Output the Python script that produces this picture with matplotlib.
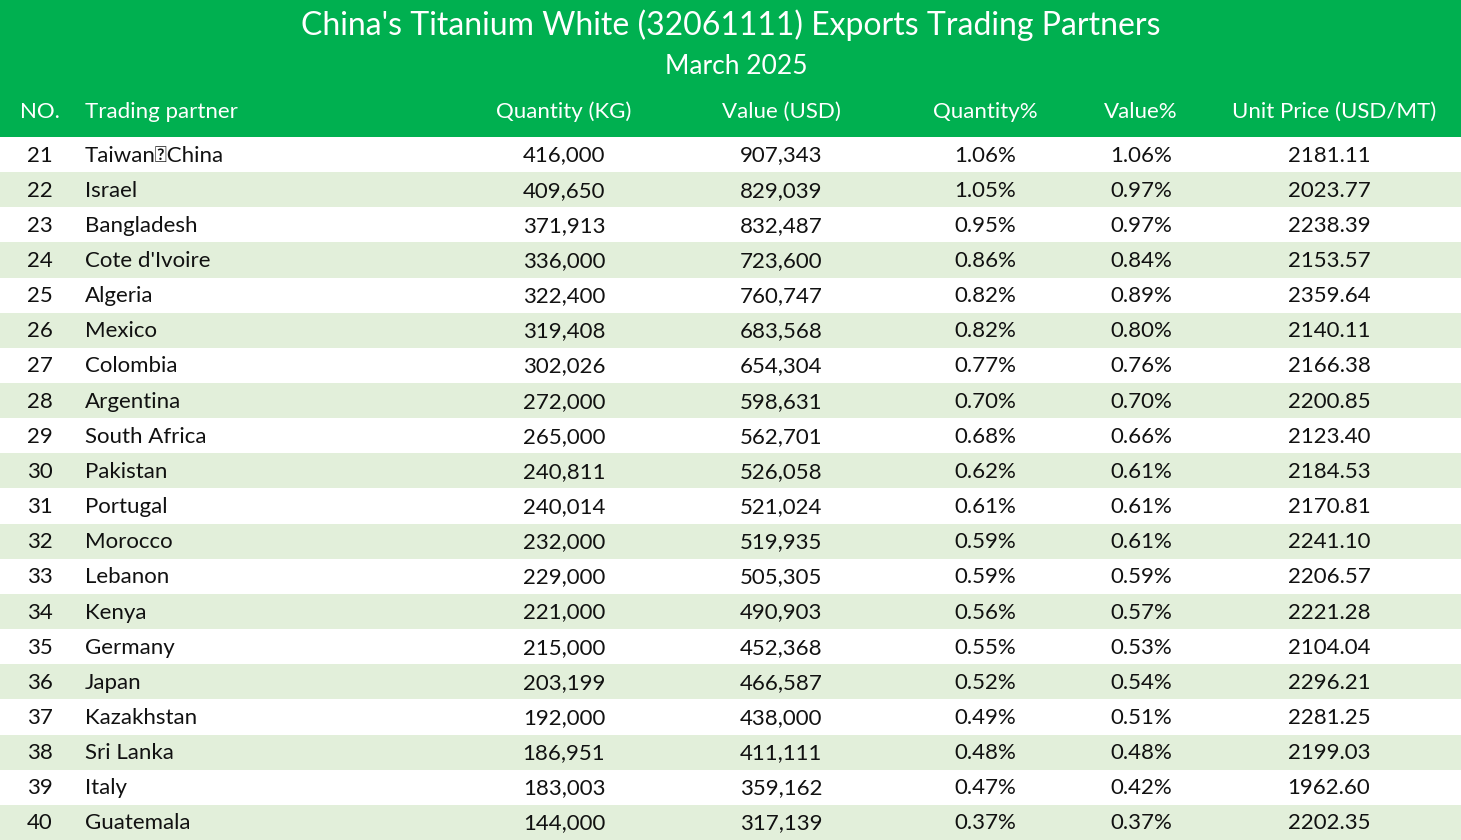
import matplotlib
matplotlib.use("Agg")
import matplotlib.pyplot as plt
from matplotlib.patches import Rectangle

title = "China's Titanium White (32061111) Exports Trading Partners"
subtitle = "March 2025"
headers = ["NO.", "Trading partner", "Quantity (KG)", "Value (USD)", "Quantity%", "Value%", "Unit Price (USD/MT)"]
nos = list(range(21, 41))
partners = ["Taiwan，China", "Israel", "Bangladesh", "Cote d'Ivoire", "Algeria", "Mexico", "Colombia",
            "Argentina", "South Africa", "Pakistan", "Portugal", "Morocco", "Lebanon", "Kenya", "Germany",
            "Japan", "Kazakhstan", "Sri Lanka", "Italy", "Guatemala"]
quantity = [416000, 409650, 371913, 336000, 322400, 319408, 302026, 272000, 265000, 240811,
            240014, 232000, 229000, 221000, 215000, 203199, 192000, 186951, 183003, 144000]
value = [907343, 829039, 832487, 723600, 760747, 683568, 654304, 598631, 562701, 526058,
         521024, 519935, 505305, 490903, 452368, 466587, 438000, 411111, 359162, 317139]
qty_pct = [1.06, 1.05, 0.95, 0.86, 0.82, 0.82, 0.77, 0.70, 0.68, 0.62,
           0.61, 0.59, 0.59, 0.56, 0.55, 0.52, 0.49, 0.48, 0.47, 0.37]
val_pct = [1.06, 0.97, 0.97, 0.84, 0.89, 0.80, 0.76, 0.70, 0.66, 0.61,
           0.61, 0.61, 0.59, 0.57, 0.53, 0.54, 0.51, 0.48, 0.42, 0.37]
unit_price = [2181.11, 2023.77, 2238.39, 2153.57, 2359.64, 2140.11, 2166.38, 2200.85, 2123.40, 2184.53,
              2170.81, 2241.10, 2206.57, 2221.28, 2104.04, 2296.21, 2281.25, 2199.03, 1962.60, 2202.35]

W, H = 1461, 840
fig = plt.figure(figsize=(W/100, H/100), dpi=100)
ax = fig.add_axes([0, 0, 1, 1])
ax.set_xlim(0, W); ax.set_ylim(H, 0); ax.axis("off")
font = "Lato"
green = "#00B050"
light = "#E2EFDA"

header_h = 137
ax.add_patch(Rectangle((0, 0), W, header_h, color=green, lw=0))
ax.text(W/2, 25, title, color="white", fontsize=23, ha="center", va="center", family=font)
ax.text(736, 66, subtitle, color="white", fontsize=19, ha="center", va="center", family=font)

hx = [40, 85, 564, 781, 985, 1141, 1334]
ha = ["center", "left", "center", "center", "center", "center", "center"]
for x, h, a in zip(hx, headers, ha):
    ax.text(x, 112, h, color="white", fontsize=16, ha=a, va="center", family=font)

rh = (H - header_h) / len(nos)
dx = [40, 85, 564, 781, 985, 1141, 1329]
for i in range(len(nos)):
    y0 = header_h + i * rh
    if i % 2 == 1:
        ax.add_patch(Rectangle((0, y0), W, rh, color=light, lw=0))
    cells = [str(nos[i]), partners[i], f"{quantity[i]:,}", f"{value[i]:,}",
             f"{qty_pct[i]:.2f}%", f"{val_pct[i]:.2f}%", f"{unit_price[i]:.2f}"]
    for x, c, a in zip(dx, cells, ha):
        ax.text(x, y0 + rh/2 + 1, c, color="#111111", fontsize=16, ha=a, va="center", family=font)

fig.savefig("out.png", dpi=100)
